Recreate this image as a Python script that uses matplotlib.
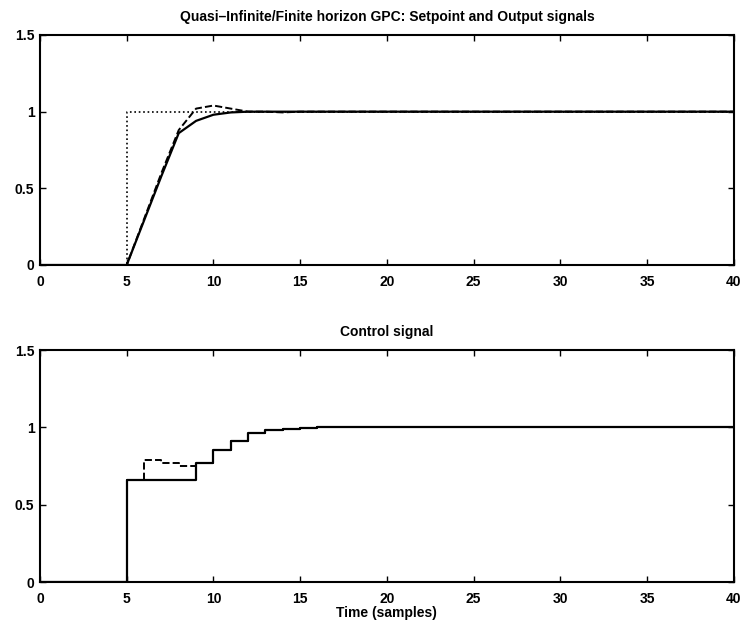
import numpy as np
import matplotlib.pyplot as plt

plt.rcParams['font.family'] = ['Liberation Sans', 'DejaVu Sans']

# samples 0..40
t = np.arange(41)

# setpoint and plant outputs (quasi-infinite = solid, finite horizon = dashed)
setpoint = [0, 0, 0, 0, 0] + [1.0] * 36
y_qi = [0, 0, 0, 0, 0, 0.0, 0.29, 0.58, 0.86, 0.94, 0.98, 0.995] + [1.0] * 29
y_fh = [0, 0, 0, 0, 0, 0.0, 0.30, 0.60, 0.88, 1.02, 1.04, 1.02, 1.0, 1.0, 0.995, 1.0] + [1.0] * 25

# control signals
u_qi = [0, 0, 0, 0, 0, 0.66, 0.66, 0.66, 0.66, 0.77, 0.853, 0.915, 0.966, 0.983, 0.992, 0.998] + [1.0] * 25
u_fh = [0, 0, 0, 0, 0, 0.66, 0.79, 0.77, 0.75, 0.77, 0.853, 0.915, 0.966, 0.983, 0.992, 0.998] + [1.0] * 25

fig = plt.figure(figsize=(7.46, 6.25), dpi=100)
ax1 = fig.add_axes([0.0536, 0.576, 0.930, 0.368])
ax2 = fig.add_axes([0.0536, 0.0688, 0.930, 0.371])

ax1.step(t, setpoint, where='post', color='k', linestyle=':', linewidth=1.2)
ax1.plot(t, y_fh, color='k', linestyle='--', linewidth=1.4)
ax1.plot(t, y_qi, color='k', linestyle='-', linewidth=1.6)
ax1.set_title('Quasi–Infinite/Finite horizon GPC: Setpoint and Output signals',
              fontsize=10, fontweight='bold', pad=10)

ax2.step(t, u_fh, where='post', color='k', linestyle='--', linewidth=1.4)
ax2.step(t, u_qi, where='post', color='k', linestyle='-', linewidth=1.6)
ax2.set_title('Control signal', fontsize=10, fontweight='bold', pad=10)
ax2.set_xlabel('Time (samples)', fontsize=10, fontweight='bold', labelpad=0)

for ax in (ax1, ax2):
    ax.set_xlim(0, 40)
    ax.set_ylim(0, 1.5)
    ax.set_xticks(np.arange(0, 41, 5))
    ax.set_yticks([0, 0.5, 1, 1.5])
    ax.set_yticklabels(['0', '0.5', '1', '1.5'])
    ax.tick_params(direction='in', top=True, right=True, length=4, width=1,
                   labelsize=10)
    ax.tick_params(axis='x', pad=7)
    ax.tick_params(axis='y', pad=4)
    for lbl in ax.get_xticklabels() + ax.get_yticklabels():
        lbl.set_fontweight('bold')
    for sp in ax.spines.values():
        sp.set_linewidth(1.5)

fig.savefig('out.png', dpi=100)
